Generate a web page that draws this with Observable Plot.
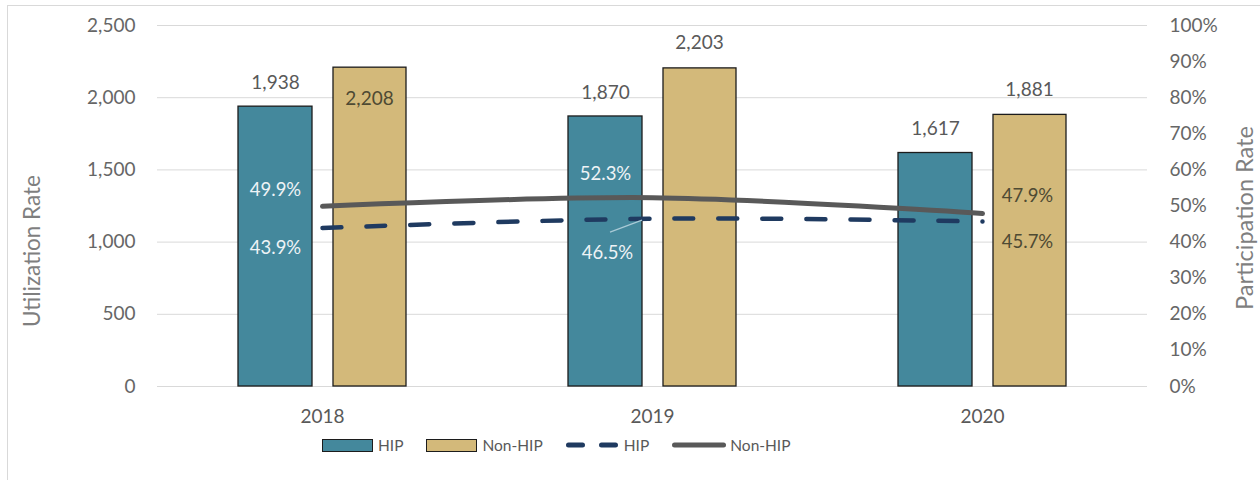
<!DOCTYPE html>
<html>
<head>
<meta charset="utf-8">
<script src="https://cdn.jsdelivr.net/npm/d3@7"></script>
<script src="https://cdn.jsdelivr.net/npm/@observablehq/plot@0.6"></script>
<style>
  html, body { margin: 0; padding: 0; background: #fff; }
  body { width: 1260px; height: 480px; position: relative; overflow: hidden; font-family: Lato, "Open Sans", sans-serif; }
  #frame { position: absolute; left: 7px; top: 5px; width: 1300px; height: 520px; border: 1px solid #d9d9d9; box-sizing: border-box; }
  #chart { position: absolute; left: 0; top: 0; }
  #legend { position: absolute; left: 322px; top: 434px; display: flex; align-items: center; font-size: 15.5px; color: #595959; height: 22px; }
  #legend .item { display: flex; align-items: center; margin-right: 23px; }
  #legend .box { width: 51px; height: 13px; border: 1.3px solid #1c1c1c; margin-right: 5px; box-sizing: border-box; }
  #legend svg { margin-right: 4px; }
</style>
</head>
<body>
<div id="frame"></div>
<div id="chart"></div>
<div id="legend"></div>
<script>
// Utilization (left axis) and participation (right axis) by year
const years = ["2018", "2019", "2020"];
const hipUtilization = [1938, 1870, 1617];
const nonHipUtilization = [2208, 2203, 1881];
const hipParticipation = [43.9, 46.5, 45.7];
const nonHipParticipation = [49.9, 52.3, 47.9];
const leftTicks = [0, 500, 1000, 1500, 2000, 2500];
const rightTicks = [0, 10, 20, 30, 40, 50, 60, 70, 80, 90, 100];

const UTIL_MAX = 2500;
const PCT_MAX = 100;
const pctToUtil = (p) => p * UTIL_MAX / PCT_MAX;

const colors = {
  hip: "#44889c",
  nonHip: "#d3b97a",
  hipLine: "#1f3a60",
  nonHipLine: "#595959",
  text: "#595959",
  olive: "#4e4a33",
  light: "#eef3f6",
  grid: "#d9d9d9"
};

const hipBars = years.map((year, i) => ({year, value: hipUtilization[i]}));
const nonHipBars = years.map((year, i) => ({year, value: nonHipUtilization[i]}));
const hipLine = years.map((year, i) => ({year, pct: hipParticipation[i]}));
const nonHipLine = years.map((year, i) => ({year, pct: nonHipParticipation[i]}));

const fmtInt = d3.format(",");
const fmtPct = (p) => p.toFixed(1) + "%";

// Label for one point on a participation line, nudged off the line
function pctLabel(rows, year, dx, dy, fill) {
  return Plot.text(rows.filter((d) => d.year === year), {
    x: "year", y: (d) => pctToUtil(d.pct), text: (d) => fmtPct(d.pct),
    dx, dy, fill, fontSize: 18.5
  });
}

// Short leader from the 2019 HIP participation point to its label
function leader(index, scales) {
  const bw = scales.x.bandwidth ? scales.x.bandwidth() : 0;
  const row = hipLine.find((d) => d.year === "2019");
  const x = scales.x(row.year) + bw / 2;
  const y = scales.y(pctToUtil(row.pct));
  const line = d3.create("svg:line")
    .attr("x1", x - 10).attr("y1", y + 2)
    .attr("x2", x - 42).attr("y2", y + 14)
    .attr("stroke", "#a9cad6").attr("stroke-width", 1.2);
  return line.node();
}

const chart = Plot.plot({
  width: 1260,
  height: 432,
  marginLeft: 157,
  marginRight: 113,
  marginTop: 25,
  marginBottom: 46,
  style: {fontFamily: "Lato, 'Open Sans', sans-serif", fontSize: "19px", color: colors.text, background: "transparent"},
  x: {type: "band", domain: years, padding: 0, label: null},
  y: {domain: [0, UTIL_MAX], label: null},
  marks: [
    Plot.gridY(leftTicks, {stroke: colors.grid, strokeOpacity: 1, strokeWidth: 1}),
    Plot.axisY({anchor: "left", ticks: leftTicks, tickFormat: fmtInt, tickSize: 0, tickPadding: 22, label: null, fill: "#666"}),
    Plot.axisY({anchor: "right", ticks: rightTicks.map(pctToUtil), tickFormat: (d) => Math.round(d * PCT_MAX / UTIL_MAX) + "%", tickSize: 0, tickPadding: 22, label: null, fill: "#666"}),
    Plot.axisX({tickSize: 0, tickPadding: 23, label: null, fill: "#595959"}),
    Plot.text(["Utilization Rate"], {frameAnchor: "left", textAnchor: "middle", rotate: -90, dx: -125, dy: 45, fontSize: 22.5, fill: "#7f7f7f"}),
    Plot.text(["Participation Rate"], {frameAnchor: "right", textAnchor: "middle", rotate: -90, dx: 98, dy: 12, fontSize: 23.5, fill: "#7f7f7f"}),
    Plot.barY(hipBars, {x: "year", y: "value", fill: colors.hip, stroke: "#1c1c1c", strokeWidth: 1.3, insetLeft: 81, insetRight: 175}),
    Plot.barY(nonHipBars, {x: "year", y: "value", fill: colors.nonHip, stroke: "#1c1c1c", strokeWidth: 1.3, insetLeft: 176, insetRight: 81}),
    Plot.line(nonHipLine, {x: "year", y: (d) => pctToUtil(d.pct), stroke: colors.nonHipLine, strokeWidth: 5, curve: "catmull-rom"}),
    Plot.line(hipLine, {x: "year", y: (d) => pctToUtil(d.pct), stroke: colors.hipLine, strokeWidth: 4.5, strokeDasharray: "19,25", strokeLinecap: "round", curve: "catmull-rom"}),
    // Utilization values over the bars
    Plot.text(hipBars, {x: "year", y: "value", text: (d) => fmtInt(d.value), dx: -47, dy: -24, fill: colors.text}),
    Plot.text(nonHipBars.filter((d) => d.year !== "2018"), {x: "year", y: "value", text: (d) => fmtInt(d.value), dx: 47, dy: -25, fill: colors.text}),
    Plot.text(nonHipBars.filter((d) => d.year === "2018"), {x: "year", y: "value", text: (d) => fmtInt(d.value), dx: 47, dy: 31, fill: colors.olive}),
    // Participation values
    pctLabel(nonHipLine, "2018", -47, -16, colors.light),
    pctLabel(hipLine, "2018", -47, 20, colors.light),
    pctLabel(nonHipLine, "2019", -47, -24, colors.light),
    pctLabel(hipLine, "2019", -45, 34, colors.light),
    pctLabel(nonHipLine, "2020", 45, -18, colors.olive),
    pctLabel(hipLine, "2020", 45, 21, colors.olive),
    leader
  ]
});
document.getElementById("chart").append(chart);

// Legend below the chart
const legend = d3.select("#legend");
const addBox = (label, fill) => {
  const item = legend.append("div").attr("class", "item");
  item.append("div").attr("class", "box").style("background", fill);
  item.append("span").text(label);
};
const addLine = (label, stroke, width, dash) => {
  const item = legend.append("div").attr("class", "item");
  const svg = item.append("svg").attr("width", 54).attr("height", 12);
  svg.append("line").attr("x1", 2.5).attr("x2", 51.5).attr("y1", 6).attr("y2", 6)
    .attr("stroke", stroke).attr("stroke-width", width)
    .attr("stroke-linecap", "round").attr("stroke-dasharray", dash);
  item.append("span").text(label);
};
addBox("HIP", colors.hip);
addBox("Non-HIP", colors.nonHip);
addLine("HIP", colors.hipLine, 5, "14,19");
addLine("Non-HIP", colors.nonHipLine, 5, null);
</script>
</body>
</html>
